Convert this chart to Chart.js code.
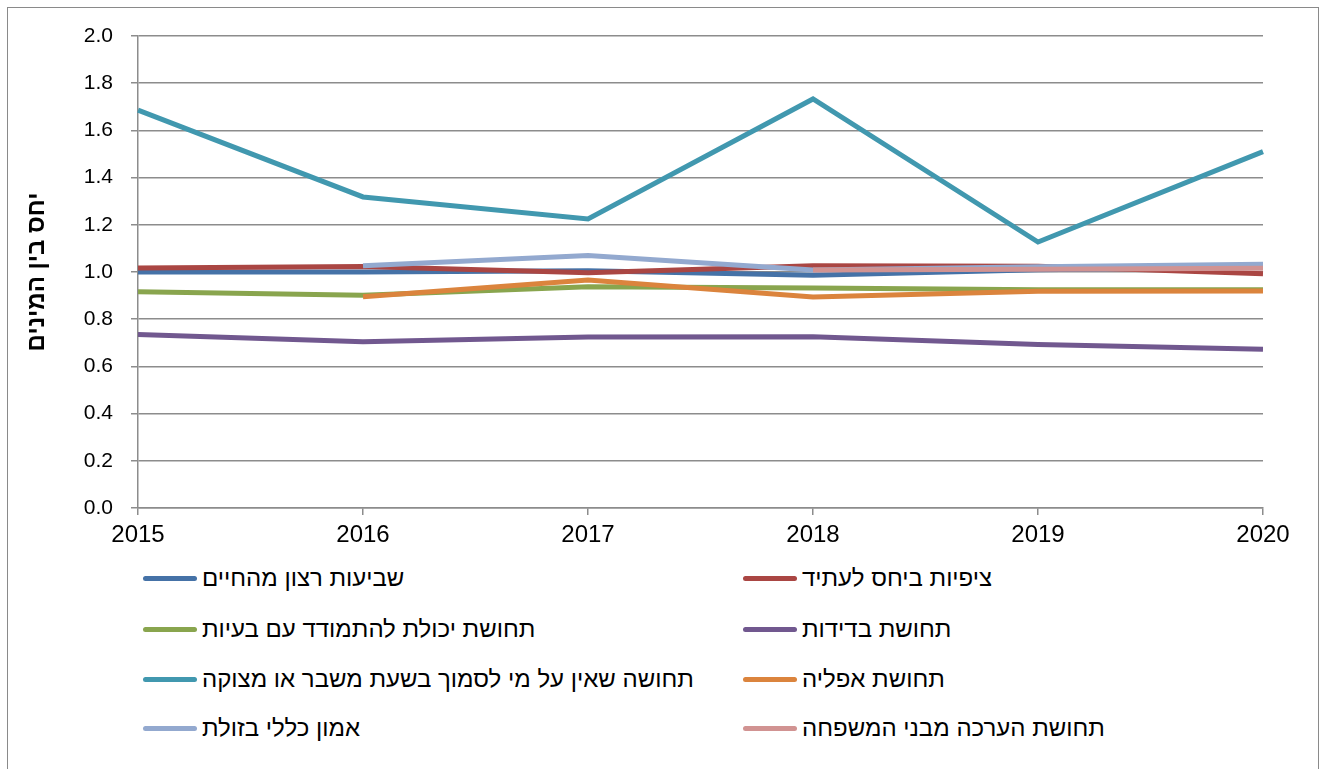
<!DOCTYPE html>
<html lang="he">
<head>
<meta charset="utf-8">
<script src="https://cdn.jsdelivr.net/npm/chart.js@4/dist/chart.umd.min.js"></script>
<style>
  html, body { margin: 0; padding: 0; background: #fff; }
  #wrap { position: relative; width: 1321px; height: 769px; overflow: hidden; }
  #frame { position: absolute; left: 7px; top: 7px; width: 1312px; height: 780px; border: 1.5px solid #8a8a8a; box-sizing: border-box; }
  #c { position: absolute; left: 0; top: 0; }
  .lg { position: absolute; display: flex; align-items: center; font-family: "Liberation Sans", Arial, sans-serif; font-size: 24px; color: #000; white-space: nowrap; }
  .lg .sw { width: 54px; height: 5px; border-radius: 3px; margin-right: 5px; }
</style>
</head>
<body>
<div id="wrap">
  <div id="frame"></div>
  <canvas id="c" width="1321" height="560"></canvas>
  <div id="legend"></div>
</div>
<script>
const years = ["2015", "2016", "2017", "2018", "2019", "2020"];
const seriesNames = [
  "שביעות רצון מהחיים",
  "ציפיות ביחס לעתיד",
  "תחושת יכולת להתמודד עם בעיות",
  "תחושת בדידות",
  "תחושה שאין על מי לסמוך בשעת משבר או מצוקה",
  "תחושת אפליה",
  "אמון כללי בזולת",
  "תחושת הערכה מבני המשפחה"
];
const lifeSatisfaction = [1.00, 1.00, 1.005, 0.986, 1.01, 1.02];
const futureExpectations = [1.017, 1.023, 0.997, 1.027, 1.024, 0.993];
const copingAbility = [0.916, 0.902, 0.937, 0.932, 0.925, 0.925];
const loneliness = [0.735, 0.704, 0.725, 0.726, 0.693, 0.673];
const noOneToRelyOn = [1.686, 1.318, 1.225, 1.733, 1.127, 1.51];
const discrimination = [null, 0.895, 0.966, 0.894, 0.918, 0.92];
const generalTrust = [null, 1.027, 1.07, 1.008, 1.022, 1.033];
const familyAppreciation = [null, null, null, 1.008, 1.012, 1.016];
const yTicks = [0, 0.2, 0.4, 0.6, 0.8, 1.0, 1.2, 1.4, 1.6, 1.8, 2.0];
const colors = ["#4572A7", "#AA4643", "#89A54E", "#71588F", "#4198AF", "#DB843D", "#93A9CF", "#D19392"];
const allSeries = [lifeSatisfaction, futureExpectations, copingAbility, loneliness, noOneToRelyOn, discrimination, generalTrust, familyAppreciation];

const datasets = allSeries.map((d, i) => ({
  label: seriesNames[i],
  data: d,
  borderColor: colors[i],
  backgroundColor: colors[i],
  borderWidth: 5,
  pointRadius: 0,
  pointHoverRadius: 0,
  tension: 0,
  fill: false,
  spanGaps: false,
  order: allSeries.length - i
}));

const gridColor = "#8c8c8c";
new Chart(document.getElementById("c"), {
  type: "line",
  data: { labels: years, datasets },
  options: {
    responsive: false,
    animation: false,
    events: [],
    layout: { padding: { left: 20, right: 58, top: 36, bottom: 0 } },
    plugins: { legend: { display: false }, tooltip: { enabled: false } },
    scales: {
      x: {
        type: "category",
        offset: false,
        grid: { display: true, drawOnChartArea: false, drawTicks: true, tickLength: 7, color: gridColor, lineWidth: 1.5 },
        border: { display: true, color: gridColor, width: 1.5 },
        ticks: { color: "#000", font: { family: "Liberation Sans, Arial, sans-serif", size: 24 }, padding: 6, maxRotation: 0, autoSkip: false },
        afterFit: s => { s.height = 52; }
      },
      y: {
        min: 0, max: 2,
        afterBuildTicks: s => { s.ticks = yTicks.map(v => ({ value: v })); },
        grid: { color: gridColor, lineWidth: 1.5, drawTicks: true, tickLength: 7 },
        border: { display: true, color: gridColor, width: 1.5 },
        ticks: { color: "#000", font: { family: "Liberation Sans, Arial, sans-serif", size: 21 }, padding: 18, callback: v => Number(v).toFixed(1) },
        title: { display: true, text: "יחס בין המינים", color: "#000", font: { family: "Liberation Sans, Arial, sans-serif", size: 24, weight: "bold" }, padding: { top: 3, bottom: 0 } },
        afterFit: s => { s.width = 118; }
      }
    }
  }
});

const legend = document.getElementById("legend");
const colX = [143, 743];
const rowY = [578, 629, 679, 728];
seriesNames.forEach((name, i) => {
  const el = document.createElement("div");
  el.className = "lg";
  el.style.left = colX[i % 2] + "px";
  el.style.top = (rowY[Math.floor(i / 2)] - 14) + "px";
  el.style.height = "28px";
  const sw = document.createElement("div");
  sw.className = "sw";
  sw.style.background = colors[i];
  const tx = document.createElement("span");
  tx.dir = "rtl";
  tx.textContent = name;
  el.appendChild(sw);
  el.appendChild(tx);
  legend.appendChild(el);
});
</script>
</body>
</html>
